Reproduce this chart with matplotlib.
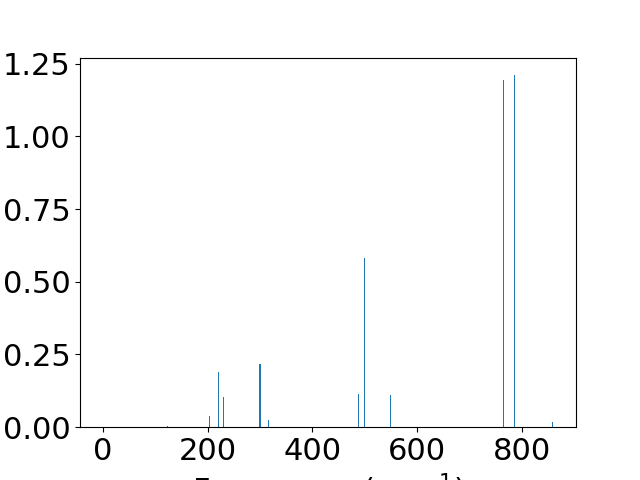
import matplotlib
matplotlib.use("Agg")
import matplotlib.pyplot as plt

plt.rcParams['font.size'] = 22

freqs = [0, 124, 203, 220, 230, 299, 300.5, 316, 488, 499.5, 549, 766, 787, 860]
intens = [0.0, 0.003, 0.038, 0.19, 0.104, 0.217, 0.217, 0.025, 0.114, 0.581, 0.11, 1.193, 1.21, 0.018]

fig, ax = plt.subplots(figsize=(6.4, 4.8), dpi=100)
ax.bar(freqs, intens, width=2)
ax.set_xlabel("Frequency (cm$^{-1}$)")
fig.savefig("out.png")
